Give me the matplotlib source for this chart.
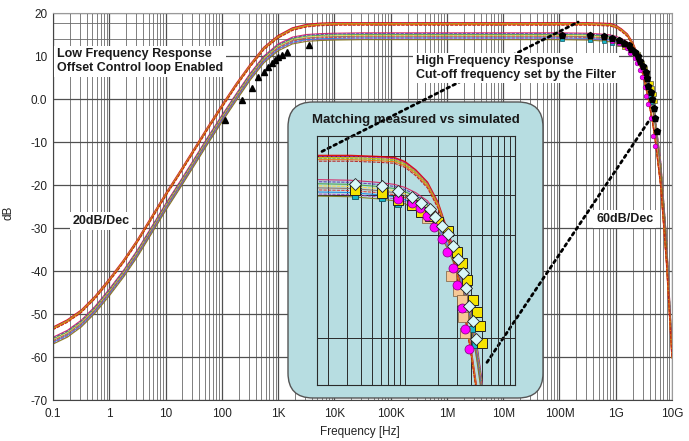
import numpy as np
import matplotlib
matplotlib.use("Agg")
import matplotlib.pyplot as plt
from matplotlib.patches import FancyBboxPatch, ConnectionPatch
from matplotlib.ticker import LogLocator, NullFormatter

plt.rcParams['font.family'] = ['Liberation Sans', 'DejaVu Sans']

#----------------------------------------------------------
# Data
#----------------------------------------------------------
freq_hz = [0.1, 0.18, 0.32, 0.56, 1, 1.8, 3.2, 5.6, 10, 18, 32, 56, 100, 180,
           320, 560, 1e3, 1.8e3, 3.2e3, 5.6e3, 1e4, 3.2e4, 1e5, 1e6, 1e7, 1e8,
           3.2e8, 5.6e8, 8e8, 1e9, 1.25e9, 1.6e9, 2e9, 2.5e9, 2.8e9, 3.2e9,
           3.6e9, 4e9, 4.5e9, 5e9, 6.3e9, 8e9, 1e10]

# simulated curves, upper group (plateau ~17.5 dB)
sim_top_db = [-53.3, -51.6, -49.3, -46.1, -42.1, -37.7, -32.9, -27.7, -22.3,
              -17.1, -11.9, -6.8, -1.7, 3.3, 7.8, 11.8, 14.5, 16.3, 17.1, 17.4,
              17.5, 17.5, 17.5, 17.5, 17.5, 17.5, 17.5, 17.4, 17.3, 16.9, 16.1,
              14.9, 12.9, 9.8, 7.6, 4.6, 1.6, -1.5, -5.2, -9.0, -20.0, -38.0,
              -60.0]

# simulated curves, lower group (plateau ~15 dB)
sim_low_db = [-55.8, -54.2, -51.8, -48.6, -44.6, -40.2, -35.4, -30.2, -24.8,
              -19.6, -14.4, -9.3, -4.2, 0.8, 5.6, 9.6, 12.4, 14.0, 14.6, 14.8,
              14.9, 15.0, 15.0, 15.0, 15.0, 15.0, 14.9, 14.7, 14.5, 14.2, 13.7,
              12.9, 11.6, 9.6, 8.3, 6.6, 4.6, 2.2, -1.0, -4.5, -15.0, -33.0,
              -58.0]

# gain spread of the individual runs inside each group
top_offsets = [0.2, 0.1, 0.0, -0.1, -0.2, -0.35]
low_offsets = [0.4, 0.2, 0.0, -0.2, -0.4, -0.6, -0.8, -1.0, -1.2]
top_colors = ['#e00000', '#9c27b0', '#c8b400', '#7cb342', '#ff6f00', '#b71c1c']
low_colors = ['#d81b60', '#5e35b1', '#43a047', '#fdd835', '#8d6e63',
              '#e53935', '#1e88e5', '#ab47bc', '#827717']

# measured, low frequency (black triangles)
meas_lf_hz = [113, 228, 343, 438, 560, 659, 776, 877, 991, 1170, 1430, 3520]
meas_lf_db = [-4.9, -0.2, 2.5, 5.1, 6.3, 7.5, 8.3, 9.0, 9.8, 10.2, 10.9, 12.6]

# measured, high frequency
meas_a_hz = [1.1e8, 3.5e8, 6.2e8, 8.7e8, 1.15e9, 1.41e9, 1.7e9, 1.86e9, 2.19e9,
             2.45e9, 2.75e9, 3.02e9, 3.39e9, 3.55e9, 3.8e9, 4.17e9, 4.42e9]
meas_a_db = [14.9, 14.9, 14.7, 14.3, 13.7, 13.1, 12.5, 11.7, 10.9, 10.1, 8.9,
             7.6, 6.3, 4.8, 3.1, 1.6, -0.1]
# tail only visible in the main chart (below the inset window)
meas_a_tail_hz = [4.7e9, 5.0e9, 5.4e9]
meas_a_tail_db = [-2.0, -4.5, -7.5]

meas_b_hz = [8.7e8, 1.15e9, 1.38e9, 1.58e9, 1.82e9, 2.19e9, 2.4e9, 2.75e9,
             2.95e9, 3.31e9, 3.5e9, 3.8e9]
meas_b_db = [13.5, 13.1, 12.6, 11.8, 10.8, 9.6, 8.3, 6.8, 5.1, 2.9, 0.8, -1.1]
meas_b_tail_hz = [4.2e9, 4.6e9, 4.9e9]
meas_b_tail_db = [-4.5, -8.5, -11.0]

meas_c_hz = [3.5e8, 6.2e8, 8.7e8, 1.15e9, 1.41e9, 1.7e9, 2.0e9, 2.45e9, 2.95e9,
             3.31e9, 3.63e9, 4.17e9, 4.47e9, 4.79e9, 5.0e9]
meas_c_db = [14.4, 14.1, 13.4, 12.9, 12.2, 11.8, 11.2, 10.4, 8.3, 7.3, 5.6, 3.7,
             2.5, 1.1, -0.5]

meas_d_hz = [1.1e8, 3.5e8, 6.2e8, 8.7e8, 4.1e9, 4.37e9]
meas_d_db = [14.0, 13.8, 13.6, 13.0, 0.8, -0.7]

meas_e_hz = [1.58e9, 2.63e9, 3.02e9, 3.31e9, 3.39e9, 3.5e9]
meas_e_db = [11.6, 6.0, 4.5, 3.7, 2.0, 0.5]

x_ticks = [0.1, 1, 10, 100, 1e3, 1e4, 1e5, 1e6, 1e7, 1e8, 1e9, 1e10]
x_tick_labels = ["0.1", "1", "10", "100", "1K", "10K", "100K", "1M", "10M",
                 "100M", "1G", "10G"]
y_ticks = [-70, -60, -50, -40, -30, -20, -10, 0, 10, 20]
y_tick_labels = ["-70", "-60", "-50", "-40", "-30", "-20", "-10", "0.0", "10",
                 "20"]
y_extra = [13.9, 17.7]
inset_y_ticks = [0, 10, 13.9, 17.7]

BOLD = dict(fontsize=9, fontweight='bold', color='#1a1a1a')


#----------------------------------------------------------
def DrawCurves(ax):

    top = np.array(sim_top_db)
    low = np.array(sim_low_db)

    for i, off in enumerate(low_offsets):
        ls = '-' if i % 2 == 0 else (0, (3, 1))
        ax.plot(freq_hz, low + off, color=low_colors[i], lw=0.8, ls=ls,
                alpha=0.9, zorder=2)

    for i, off in enumerate(top_offsets):
        ls = '-' if i % 2 == 0 else (0, (3, 1))
        lw = 1.2 if i == 0 else 0.8
        ax.plot(freq_hz, top + off, color=top_colors[i], lw=lw, ls=ls,
                alpha=0.9, zorder=2)


#----------------------------------------------------------
def MainAxes(fig):

    ax = fig.add_axes([53 / 689, 41 / 441, 619 / 689, 387 / 441])
    ax.set_xscale('log')
    ax.set_xlim(0.1, 1e10)
    ax.set_ylim(-70, 20)

    ax.set_xticks(x_ticks, x_tick_labels)
    ax.xaxis.set_minor_locator(LogLocator(base=10, subs=range(2, 10), numticks=40))
    ax.xaxis.set_minor_formatter(NullFormatter())
    ax.set_yticks(y_ticks, y_tick_labels)
    ax.set_yticks(y_extra, minor=True)

    ax.grid(which='major', color='#505050', lw=0.9)
    ax.grid(which='minor', color='#6a6a6a', lw=0.6)
    ax.set_axisbelow(True)
    ax.tick_params(which='both', length=0, labelsize=8.5, colors='#222222')
    ax.tick_params(axis='x', pad=6)
    ax.tick_params(axis='y', pad=4)
    for s in ax.spines.values():
        s.set_color('#9a9a9a')
    ax.spines['left'].set_color('#444444')
    ax.spines['bottom'].set_color('#444444')

    ax.set_ylabel('dB', fontsize=8.5, color='#222222')
    ax.yaxis.set_label_coords(-0.062, 0.483)
    ax.set_xlabel('Frequency [Hz]', fontsize=8.5, color='#222222')
    ax.xaxis.set_label_coords(0.496, -0.068)

    DrawCurves(ax)

    ax.plot(meas_lf_hz, meas_lf_db, ls='none', marker='^', ms=4.5,
            color='black', zorder=3)
    ax.plot(meas_d_hz, meas_d_db, ls='none', marker='s', ms=3,
            color='#19b5c9', mec='#0b5560', mew=0.5, zorder=3)
    ax.plot(meas_c_hz, meas_c_db, ls='none', marker='s', ms=3.2,
            color='#f5e400', mec='#333333', mew=0.4, zorder=3)
    ax.plot(meas_b_hz + meas_b_tail_hz, meas_b_db + meas_b_tail_db, ls='none',
            marker='o', ms=3.4, color='#ff00ff', mec='#800080', mew=0.4, zorder=3)
    ax.plot(meas_a_hz + meas_a_tail_hz, meas_a_db + meas_a_tail_db, ls='none',
            marker='p', ms=4.5, color='black', zorder=3)

    bb = dict(facecolor='white', edgecolor='none', pad=2)
    ax.text(0.118, 8.8, "Low Frequency Response\nOffset Control loop Enabled",
            ha='left', va='center', linespacing=1.2, bbox=bb, zorder=6, **BOLD)
    ax.text(2.8e5, 7.2, "High Frequency Response\nCut-off frequency set by the Filter",
            ha='left', va='center', linespacing=1.15, bbox=bb, zorder=6, **BOLD)
    ax.text(0.71, -28.4, "20dB/Dec", ha='center', va='center', bbox=bb,
            zorder=6, **BOLD)
    ax.text(1.45e9, -27.9, "60dB/Dec", ha='center', va='center', bbox=bb,
            zorder=6, **BOLD)

    return ax


#----------------------------------------------------------
def InsetAxes(fig, ax):

    box = FancyBboxPatch((2.88, 0.43), 2.55, 2.96,
                         boxstyle="round,pad=0,rounding_size=0.25",
                         transform=fig.dpi_scale_trans, facecolor='#b7dde1',
                         edgecolor='#555555', lw=1.0, clip_on=False, zorder=4)
    ax.add_artist(box)

    axi = fig.add_axes([317 / 689, 56 / 441, 198 / 689, 249 / 441])
    axi.set_facecolor('none')
    axi.set_xscale('log')
    axi.set_xlim(10 ** 8.2, 1e10)
    axi.set_ylim(-4.6, 19.6)
    axi.set_xticks([1e9])
    axi.xaxis.set_minor_locator(LogLocator(base=10, subs=range(2, 10), numticks=20))
    axi.set_yticks(inset_y_ticks)
    axi.grid(which='both', color='#2a2a2a', lw=0.7)
    axi.set_axisbelow(True)
    axi.tick_params(which='both', length=0, labelbottom=False, labelleft=False)
    for s in axi.spines.values():
        s.set_color('#2a2a2a')
        s.set_linewidth(0.8)

    DrawCurves(axi)

    axi.plot(meas_d_hz, meas_d_db, ls='none', marker='s', ms=5,
             color='#19b5c9', mec='#0b5560', mew=0.6, zorder=3)
    axi.plot(meas_e_hz, meas_e_db, ls='none', marker='s', ms=6.5,
             color='#f7c896', mec='#7a5a3a', mew=0.5, zorder=3)
    axi.plot(meas_c_hz, meas_c_db, ls='none', marker='s', ms=6.5,
             color='#f5e400', mec='#222222', mew=0.7, zorder=3)
    axi.plot(meas_b_hz, meas_b_db, ls='none', marker='o', ms=6.5,
             color='#ff00ff', mec='#7a007a', mew=0.5, zorder=4)
    axi.plot(meas_a_hz, meas_a_db, ls='none', marker='D', ms=6,
             color='#d8f6f8', mec='#222222', mew=0.6, zorder=5)

    fig.text(416 / 689, 1 - 120 / 441, "Matching measured vs simulated",
             ha='center', va='center', fontsize=9.5, fontweight='bold',
             color='#1a1a1a')

    for pa, pb in [((1.76e8, 18.1), (2.15e8, 17.9)),
                   ((5.56e9, -2.4), (3.97e9, -4.9))]:
        con = ConnectionPatch(xyA=pa, coordsA=axi.transData,
                              xyB=pb, coordsB=ax.transData,
                              color='black', lw=2.0, ls=(0, (1, 1.4)),
                              clip_on=False, zorder=5)
        ax.add_artist(con)

    return axi


#----------------------------------------------------------
def main():

    fig = plt.figure(figsize=(6.89, 4.41), dpi=100)
    ax = MainAxes(fig)
    InsetAxes(fig, ax)
    fig.savefig("out.png", dpi=100)


#----------------------------------------------------------
if __name__ == "__main__":
    main()
